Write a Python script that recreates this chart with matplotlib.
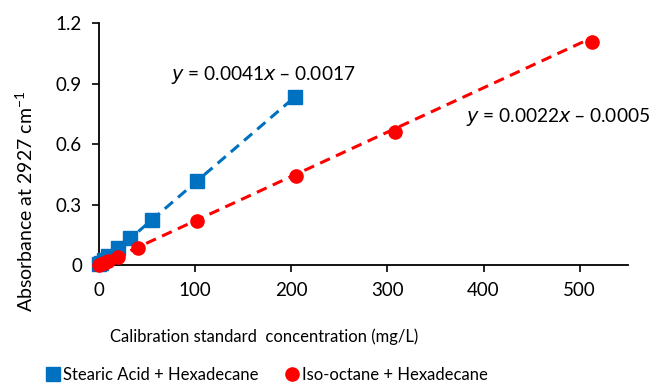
import numpy as np
import matplotlib.pyplot as plt

plt.rcParams['font.family'] = ['Lato', 'DejaVu Sans']

# stearic acid + hexadecane standards
sa_conc = [0, 2, 5, 10, 20.4, 33, 55, 102, 204]
sa_abs = [0.005, 0.01, 0.025, 0.045, 0.085, 0.135, 0.225, 0.415, 0.832]
sa_fit = (0.0041, -0.0017)

# iso-octane + hexadecane standards
io_conc = [0, 2, 5, 10, 20.5, 41, 102.5, 205, 308, 513]
io_abs = [0.0, 0.004, 0.01, 0.022, 0.043, 0.086, 0.22, 0.441, 0.66, 1.106]
io_fit = (0.0022, -0.0005)

blue = '#0070C0'
red = '#FF0000'

fig = plt.figure(figsize=(6.54, 3.86), dpi=100)
ax = fig.add_axes([0.151, 0.313, 0.809, 0.627])

# trend lines
for conc, fit, c in [(sa_conc, sa_fit, blue), (io_conc, io_fit, red)]:
    xs = np.array([min(conc), max(conc)])
    ax.plot(xs, fit[0] * xs + fit[1], color=c, ls=(0, (3.5, 2.2)), lw=2.2, zorder=2)

ax.plot(sa_conc, sa_abs, ls='none', marker='s', ms=9.5, color=blue,
        label='Stearic Acid + Hexadecane', zorder=3, clip_on=False)
ax.plot(io_conc, io_abs, ls='none', marker='o', ms=9.5, color=red,
        label='Iso-octane + Hexadecane', zorder=4, clip_on=False)

ax.text(75, 0.942, '$\\mathit{y}$ = 0.0041$\\mathit{x}$ \u2013 0.0017', fontsize=13.8,
        va='center', ha='left')
ax.text(382, 0.734, '$\\mathit{y}$ = 0.0022$\\mathit{x}$ \u2013 0.0005', fontsize=13.8,
        va='center', ha='left')

ax.set_xlim(0, 550)
ax.set_ylim(0, 1.2)
ax.set_xticks([0, 100, 200, 300, 400, 500])
ax.set_yticks([0, 0.3, 0.6, 0.9, 1.2])
ax.set_yticklabels(['0', '0.3', '0.6', '0.9', '1.2'])
ax.tick_params(labelsize=13.5, width=1.2, length=5, direction='out', pad=7)
for s in ['top', 'right']:
    ax.spines[s].set_visible(False)
for s in ['left', 'bottom']:
    ax.spines[s].set_linewidth(1.3)

fig.text(0.404, 0.127, 'Calibration standard  concentration (mg/L)', fontsize=12,
         ha='center', va='center')
fig.text(0.038, 0.477, 'Absorbance at 2927 cm$^{\\mathregular{-1}}$', fontsize=14,
         ha='center', va='center', rotation=90)

fig.legend(loc='center', bbox_to_anchor=(0.408, 0.028), ncol=2, frameon=False,
           fontsize=12, handletextpad=0.15, columnspacing=1.6, handlelength=0.9,
           borderpad=0, borderaxespad=0)

fig.savefig('out.png', dpi=100)
